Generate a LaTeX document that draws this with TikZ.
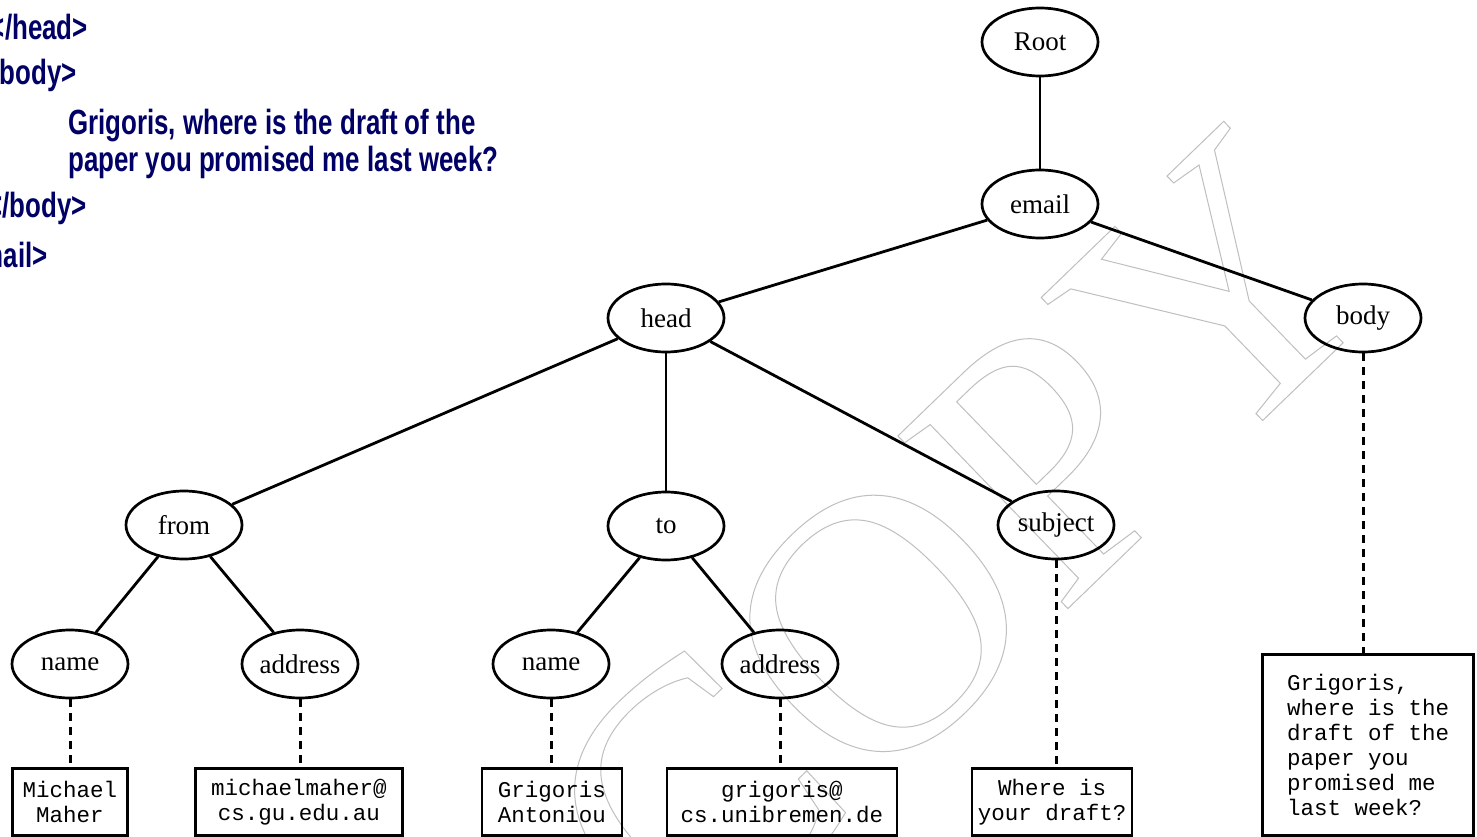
\documentclass[tikz,border=0pt]{standalone}
\usepackage{fontspec}
\setmainfont{Liberation Serif}
\setmonofont{Liberation Mono}
\newfontfamily\navyfont{Liberation Sans}[FakeStretch=0.74]
\usetikzlibrary{shapes.geometric}
\definecolor{navy}{RGB}{0,0,102}
\tikzset{
  tnode/.style={draw, ellipse, line width=2.7pt, minimum width=116pt, minimum height=68pt, inner sep=0pt,
    font=\fontsize{27}{32}\selectfont},
  leafbox/.style={draw, rectangle, line width=2.5pt, inner sep=0pt, align=center,
    font=\ttfamily\fontsize{22.5}{25}\selectfont},
  edge/.style={line width=2.8pt},
  dedge/.style={line width=3pt, dash pattern=on 8pt off 6pt},
  navytext/.style={inner sep=0pt, text=navy, font=\navyfont\bfseries\fontsize{35}{37}\selectfont}
}
\begin{document}
\begin{tikzpicture}[x=1pt,y=-1pt]
\useasboundingbox (0,0) rectangle (1477,837);
\fill[white] (0,0) rectangle (1477,837);

% watermark
\node[rotate=44, text=black!25, inner sep=0pt] (wm) at (960,545)
  {\fontsize{370}{370}\selectfont\special{pdf:literal direct 1 Tr 1 w}COPY\special{pdf:literal direct 0 Tr}};

% left text
\node[navytext, anchor=base east] (t1) at (88,40) {</head>};
\node[navytext, anchor=base east] (t2) at (77,85) {<body>};
\node[navytext, anchor=base west] (t3) at (68,135) {Grigoris, where is the draft of the};
\node[navytext, anchor=base west] (t4) at (68,172) {paper you promised me last week?};
\node[navytext, anchor=base east] (t5) at (87,218) {</body>};
\node[navytext, anchor=base east] (t6) at (48,267) {</email>};

% tree nodes
\node[tnode] (root) at (1040,42) {Root};
\node[tnode] (email) at (1040,204) {email};
\node[tnode] (head) at (666,318) {head};
\node[tnode] (body) at (1363,318) {body};
\node[tnode] (from) at (184,525) {from};
\node[tnode] (to) at (666,526) {to};
\node[tnode] (subject) at (1056,525) {subject};
\node[tnode] (name1) at (70,664) {name};
\node[tnode] (addr1) at (300,664) {address};
\node[tnode] (name2) at (551,664) {name};
\node[tnode] (addr2) at (780,664) {address};

% leaf boxes
\node[leafbox, minimum width=115pt, minimum height=67pt, anchor=north] (b1) at (70,767) {Michael\\Maher};
\node[leafbox, minimum width=207pt, minimum height=67pt, anchor=north] (b2) at (299,767) {michaelmaher@\\cs.gu.edu.au};
\node[leafbox, minimum width=140pt, minimum height=67pt, anchor=north] (b3) at (552,767) {Grigoris\\Antoniou};
\node[leafbox, minimum width=230pt, minimum height=67pt, anchor=north] (b4) at (782,767) {grigoris@\\cs.unibremen.de};
\node[leafbox, minimum width=160pt, minimum height=67pt, anchor=north] (b5) at (1052,767) {Where is\\your draft?};
\node[leafbox, minimum width=211pt, minimum height=181pt, anchor=north, align=left] (b6) at (1368,653)
  {Grigoris,\\where is the\\draft of the\\paper you\\promised me\\last week?};

% edges
\draw[edge] (root) -- (email);
\draw[edge] (email) -- (head);
\draw[edge] (email) -- (body);
\draw[edge] (head) -- (from);
\draw[edge] (head) -- (to);
\draw[edge] (head) -- (subject);
\draw[edge] (from) -- (name1);
\draw[edge] (from) -- (addr1);
\draw[edge] (to) -- (name2);
\draw[edge] (to) -- (addr2);

% dashed links
\draw[dedge] (name1.south) -- (name1.south |- b1.north);
\draw[dedge] (addr1.south) -- (addr1.south |- b2.north);
\draw[dedge] (name2.south) -- (name2.south |- b3.north);
\draw[dedge] (addr2.south) -- (addr2.south |- b4.north);
\draw[dedge] (subject.south) -- (subject.south |- b5.north);
\draw[dedge] (body.south) -- (body.south |- b6.north);
\end{tikzpicture}
\end{document}
